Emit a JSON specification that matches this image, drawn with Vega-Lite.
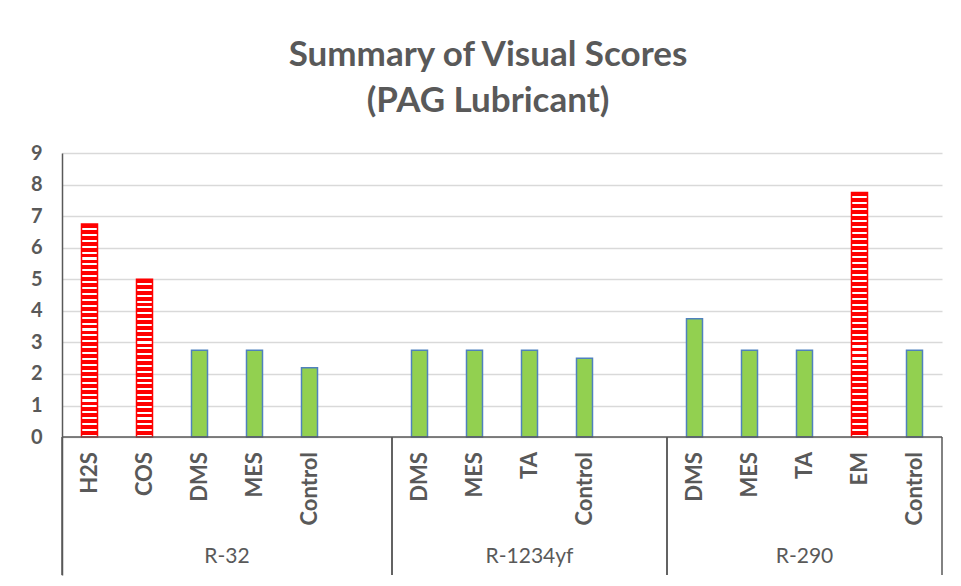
{
  "$schema": "https://vega.github.io/schema/vega-lite/v6.json",
  "width": 880,
  "height": 422,
  "autosize": {"type": "none"},
  "padding": {"left": 62, "top": 153, "right": 19, "bottom": 11},
  "background": "white",
  "title": {
    "text": ["Summary of Visual Scores", "(PAG Lubricant)"],
    "font": "Lato",
    "fontSize": 35,
    "fontWeight": "bold",
    "color": "#595959",
    "lineHeight": 46,
    "baseline": "bottom",
    "offset": -11,
    "dx": -14,
    "anchor": "middle"
  },
  "datasets": {
    "scores": [
      {"group": "R-32", "sub": "H2S", "id": "R-32|H2S", "score": 6.75},
      {"group": "R-32", "sub": "COS", "id": "R-32|COS", "score": 5},
      {"group": "R-32", "sub": "DMS", "id": "R-32|DMS", "score": 2.75},
      {"group": "R-32", "sub": "MES", "id": "R-32|MES", "score": 2.75},
      {"group": "R-32", "sub": "Control", "id": "R-32|Control", "score": 2.2},
      {"group": "R-1234yf", "sub": "DMS", "id": "R-1234yf|DMS", "score": 2.75},
      {"group": "R-1234yf", "sub": "MES", "id": "R-1234yf|MES", "score": 2.75},
      {"group": "R-1234yf", "sub": "TA", "id": "R-1234yf|TA", "score": 2.75},
      {"group": "R-1234yf", "sub": "Control", "id": "R-1234yf|Control", "score": 2.5},
      {"group": "R-290", "sub": "DMS", "id": "R-290|DMS", "score": 3.75},
      {"group": "R-290", "sub": "MES", "id": "R-290|MES", "score": 2.75},
      {"group": "R-290", "sub": "TA", "id": "R-290|TA", "score": 2.75},
      {"group": "R-290", "sub": "EM", "id": "R-290|EM", "score": 7.75},
      {"group": "R-290", "sub": "Control", "id": "R-290|Control", "score": 2.75}
    ],
    "groups": [
      {"group": "R-32", "start": "R-32|H2S", "end": "R-32|", "mid": "R-32|DMS"},
      {"group": "R-1234yf", "start": "R-1234yf|DMS", "end": "R-1234yf|", "mid": "R-1234yf|TA"},
      {"group": "R-290", "start": "R-290|DMS", "end": "R-290|Control", "mid": "R-290|TA"}
    ]
  },
  "data": {"name": "scores"},
  "config": {
    "font": "Lato",
    "view": {"stroke": null}
  },
  "layer": [
    {
      "mark": {"type": "bar", "width": 16, "strokeWidth": 1.5},
      "encoding": {
        "x": {
          "field": "id",
          "type": "nominal",
          "scale": {
            "type": "band",
            "paddingInner": 0,
            "paddingOuter": 0,
            "domain": ["R-32|H2S", "R-32|COS", "R-32|DMS", "R-32|MES", "R-32|Control", "R-32|", "R-1234yf|DMS", "R-1234yf|MES", "R-1234yf|TA", "R-1234yf|Control", "R-1234yf|", "R-290|DMS", "R-290|MES", "R-290|TA", "R-290|EM", "R-290|Control"]
          },
          "axis": null
        },
        "y": {
          "field": "score",
          "type": "quantitative",
          "scale": {"domain": [-4.37, 9], "nice": false, "zero": false},
          "axis": {
            "values": [0, 1, 2, 3, 4, 5, 6, 7, 8, 9],
            "title": null,
            "grid": true,
            "gridColor": "#D9D9D9",
            "gridWidth": 1.5,
            "domain": true,
            "domainColor": "#595959",
            "domainWidth": 1.5,
            "ticks": false,
            "tickSize": 0,
            "labelPadding": 20,
            "labelFont": "Lato",
            "labelFontSize": 20,
            "labelFontWeight": "bold",
            "labelColor": "#595959"
          }
        },
        "y2": {"datum": 0},
        "fill": {
          "condition": [
            {"test": "datum.score >= 7.5", "value": {"gradient": "linear", "x1": 0, "y1": 0, "x2": 0, "y2": 1, "stops": [
              {"offset":0,"color":"#f00"},{"offset":0.0159,"color":"#f00"},{"offset":0.0159,"color":"#fff"},{"offset":0.0244,"color":"#fff"},
              {"offset":0.0244,"color":"#f00"},{"offset":0.0402,"color":"#f00"},{"offset":0.0402,"color":"#fff"},{"offset":0.0488,"color":"#fff"},
              {"offset":0.0488,"color":"#f00"},{"offset":0.0646,"color":"#f00"},{"offset":0.0646,"color":"#fff"},{"offset":0.0732,"color":"#fff"},
              {"offset":0.0732,"color":"#f00"},{"offset":0.089,"color":"#f00"},{"offset":0.089,"color":"#fff"},{"offset":0.0976,"color":"#fff"},
              {"offset":0.0976,"color":"#f00"},{"offset":0.1134,"color":"#f00"},{"offset":0.1134,"color":"#fff"},{"offset":0.122,"color":"#fff"},
              {"offset":0.122,"color":"#f00"},{"offset":0.1378,"color":"#f00"},{"offset":0.1378,"color":"#fff"},{"offset":0.1463,"color":"#fff"},
              {"offset":0.1463,"color":"#f00"},{"offset":0.1622,"color":"#f00"},{"offset":0.1622,"color":"#fff"},{"offset":0.1707,"color":"#fff"},
              {"offset":0.1707,"color":"#f00"},{"offset":0.1866,"color":"#f00"},{"offset":0.1866,"color":"#fff"},{"offset":0.1951,"color":"#fff"},
              {"offset":0.1951,"color":"#f00"},{"offset":0.211,"color":"#f00"},{"offset":0.211,"color":"#fff"},{"offset":0.2195,"color":"#fff"},
              {"offset":0.2195,"color":"#f00"},{"offset":0.2354,"color":"#f00"},{"offset":0.2354,"color":"#fff"},{"offset":0.2439,"color":"#fff"},
              {"offset":0.2439,"color":"#f00"},{"offset":0.2598,"color":"#f00"},{"offset":0.2598,"color":"#fff"},{"offset":0.2683,"color":"#fff"},
              {"offset":0.2683,"color":"#f00"},{"offset":0.2841,"color":"#f00"},{"offset":0.2841,"color":"#fff"},{"offset":0.2927,"color":"#fff"},
              {"offset":0.2927,"color":"#f00"},{"offset":0.3085,"color":"#f00"},{"offset":0.3085,"color":"#fff"},{"offset":0.3171,"color":"#fff"},
              {"offset":0.3171,"color":"#f00"},{"offset":0.3329,"color":"#f00"},{"offset":0.3329,"color":"#fff"},{"offset":0.3415,"color":"#fff"},
              {"offset":0.3415,"color":"#f00"},{"offset":0.3573,"color":"#f00"},{"offset":0.3573,"color":"#fff"},{"offset":0.3659,"color":"#fff"},
              {"offset":0.3659,"color":"#f00"},{"offset":0.3817,"color":"#f00"},{"offset":0.3817,"color":"#fff"},{"offset":0.3902,"color":"#fff"},
              {"offset":0.3902,"color":"#f00"},{"offset":0.4061,"color":"#f00"},{"offset":0.4061,"color":"#fff"},{"offset":0.4146,"color":"#fff"},
              {"offset":0.4146,"color":"#f00"},{"offset":0.4305,"color":"#f00"},{"offset":0.4305,"color":"#fff"},{"offset":0.439,"color":"#fff"},
              {"offset":0.439,"color":"#f00"},{"offset":0.4549,"color":"#f00"},{"offset":0.4549,"color":"#fff"},{"offset":0.4634,"color":"#fff"},
              {"offset":0.4634,"color":"#f00"},{"offset":0.4793,"color":"#f00"},{"offset":0.4793,"color":"#fff"},{"offset":0.4878,"color":"#fff"},
              {"offset":0.4878,"color":"#f00"},{"offset":0.5037,"color":"#f00"},{"offset":0.5037,"color":"#fff"},{"offset":0.5122,"color":"#fff"},
              {"offset":0.5122,"color":"#f00"},{"offset":0.528,"color":"#f00"},{"offset":0.528,"color":"#fff"},{"offset":0.5366,"color":"#fff"},
              {"offset":0.5366,"color":"#f00"},{"offset":0.5524,"color":"#f00"},{"offset":0.5524,"color":"#fff"},{"offset":0.561,"color":"#fff"},
              {"offset":0.561,"color":"#f00"},{"offset":0.5768,"color":"#f00"},{"offset":0.5768,"color":"#fff"},{"offset":0.5854,"color":"#fff"},
              {"offset":0.5854,"color":"#f00"},{"offset":0.6012,"color":"#f00"},{"offset":0.6012,"color":"#fff"},{"offset":0.6098,"color":"#fff"},
              {"offset":0.6098,"color":"#f00"},{"offset":0.6256,"color":"#f00"},{"offset":0.6256,"color":"#fff"},{"offset":0.6341,"color":"#fff"},
              {"offset":0.6341,"color":"#f00"},{"offset":0.65,"color":"#f00"},{"offset":0.65,"color":"#fff"},{"offset":0.6585,"color":"#fff"},
              {"offset":0.6585,"color":"#f00"},{"offset":0.6744,"color":"#f00"},{"offset":0.6744,"color":"#fff"},{"offset":0.6829,"color":"#fff"},
              {"offset":0.6829,"color":"#f00"},{"offset":0.6988,"color":"#f00"},{"offset":0.6988,"color":"#fff"},{"offset":0.7073,"color":"#fff"},
              {"offset":0.7073,"color":"#f00"},{"offset":0.7232,"color":"#f00"},{"offset":0.7232,"color":"#fff"},{"offset":0.7317,"color":"#fff"},
              {"offset":0.7317,"color":"#f00"},{"offset":0.7476,"color":"#f00"},{"offset":0.7476,"color":"#fff"},{"offset":0.7561,"color":"#fff"},
              {"offset":0.7561,"color":"#f00"},{"offset":0.772,"color":"#f00"},{"offset":0.772,"color":"#fff"},{"offset":0.7805,"color":"#fff"},
              {"offset":0.7805,"color":"#f00"},{"offset":0.7963,"color":"#f00"},{"offset":0.7963,"color":"#fff"},{"offset":0.8049,"color":"#fff"},
              {"offset":0.8049,"color":"#f00"},{"offset":0.8207,"color":"#f00"},{"offset":0.8207,"color":"#fff"},{"offset":0.8293,"color":"#fff"},
              {"offset":0.8293,"color":"#f00"},{"offset":0.8451,"color":"#f00"},{"offset":0.8451,"color":"#fff"},{"offset":0.8537,"color":"#fff"},
              {"offset":0.8537,"color":"#f00"},{"offset":0.8695,"color":"#f00"},{"offset":0.8695,"color":"#fff"},{"offset":0.878,"color":"#fff"},
              {"offset":0.878,"color":"#f00"},{"offset":0.8939,"color":"#f00"},{"offset":0.8939,"color":"#fff"},{"offset":0.9024,"color":"#fff"},
              {"offset":0.9024,"color":"#f00"},{"offset":0.9183,"color":"#f00"},{"offset":0.9183,"color":"#fff"},{"offset":0.9268,"color":"#fff"},
              {"offset":0.9268,"color":"#f00"},{"offset":0.9427,"color":"#f00"},{"offset":0.9427,"color":"#fff"},{"offset":0.9512,"color":"#fff"},
              {"offset":0.9512,"color":"#f00"},{"offset":0.9671,"color":"#f00"},{"offset":0.9671,"color":"#fff"},{"offset":0.9756,"color":"#fff"},
              {"offset":0.9756,"color":"#f00"},{"offset":0.9915,"color":"#f00"},{"offset":0.9915,"color":"#fff"},{"offset":1,"color":"#fff"}
            ]}},
            {"test": "datum.score >= 6", "value": {"gradient": "linear", "x1": 0, "y1": 0, "x2": 0, "y2": 1, "stops": [
              {"offset":0,"color":"#f00"},{"offset":0.0181,"color":"#f00"},{"offset":0.0181,"color":"#fff"},{"offset":0.0278,"color":"#fff"},
              {"offset":0.0278,"color":"#f00"},{"offset":0.0458,"color":"#f00"},{"offset":0.0458,"color":"#fff"},{"offset":0.0556,"color":"#fff"},
              {"offset":0.0556,"color":"#f00"},{"offset":0.0736,"color":"#f00"},{"offset":0.0736,"color":"#fff"},{"offset":0.0833,"color":"#fff"},
              {"offset":0.0833,"color":"#f00"},{"offset":0.1014,"color":"#f00"},{"offset":0.1014,"color":"#fff"},{"offset":0.1111,"color":"#fff"},
              {"offset":0.1111,"color":"#f00"},{"offset":0.1292,"color":"#f00"},{"offset":0.1292,"color":"#fff"},{"offset":0.1389,"color":"#fff"},
              {"offset":0.1389,"color":"#f00"},{"offset":0.1569,"color":"#f00"},{"offset":0.1569,"color":"#fff"},{"offset":0.1667,"color":"#fff"},
              {"offset":0.1667,"color":"#f00"},{"offset":0.1847,"color":"#f00"},{"offset":0.1847,"color":"#fff"},{"offset":0.1944,"color":"#fff"},
              {"offset":0.1944,"color":"#f00"},{"offset":0.2125,"color":"#f00"},{"offset":0.2125,"color":"#fff"},{"offset":0.2222,"color":"#fff"},
              {"offset":0.2222,"color":"#f00"},{"offset":0.2403,"color":"#f00"},{"offset":0.2403,"color":"#fff"},{"offset":0.25,"color":"#fff"},
              {"offset":0.25,"color":"#f00"},{"offset":0.2681,"color":"#f00"},{"offset":0.2681,"color":"#fff"},{"offset":0.2778,"color":"#fff"},
              {"offset":0.2778,"color":"#f00"},{"offset":0.2958,"color":"#f00"},{"offset":0.2958,"color":"#fff"},{"offset":0.3056,"color":"#fff"},
              {"offset":0.3056,"color":"#f00"},{"offset":0.3236,"color":"#f00"},{"offset":0.3236,"color":"#fff"},{"offset":0.3333,"color":"#fff"},
              {"offset":0.3333,"color":"#f00"},{"offset":0.3514,"color":"#f00"},{"offset":0.3514,"color":"#fff"},{"offset":0.3611,"color":"#fff"},
              {"offset":0.3611,"color":"#f00"},{"offset":0.3792,"color":"#f00"},{"offset":0.3792,"color":"#fff"},{"offset":0.3889,"color":"#fff"},
              {"offset":0.3889,"color":"#f00"},{"offset":0.4069,"color":"#f00"},{"offset":0.4069,"color":"#fff"},{"offset":0.4167,"color":"#fff"},
              {"offset":0.4167,"color":"#f00"},{"offset":0.4347,"color":"#f00"},{"offset":0.4347,"color":"#fff"},{"offset":0.4444,"color":"#fff"},
              {"offset":0.4444,"color":"#f00"},{"offset":0.4625,"color":"#f00"},{"offset":0.4625,"color":"#fff"},{"offset":0.4722,"color":"#fff"},
              {"offset":0.4722,"color":"#f00"},{"offset":0.4903,"color":"#f00"},{"offset":0.4903,"color":"#fff"},{"offset":0.5,"color":"#fff"},
              {"offset":0.5,"color":"#f00"},{"offset":0.5181,"color":"#f00"},{"offset":0.5181,"color":"#fff"},{"offset":0.5278,"color":"#fff"},
              {"offset":0.5278,"color":"#f00"},{"offset":0.5458,"color":"#f00"},{"offset":0.5458,"color":"#fff"},{"offset":0.5556,"color":"#fff"},
              {"offset":0.5556,"color":"#f00"},{"offset":0.5736,"color":"#f00"},{"offset":0.5736,"color":"#fff"},{"offset":0.5833,"color":"#fff"},
              {"offset":0.5833,"color":"#f00"},{"offset":0.6014,"color":"#f00"},{"offset":0.6014,"color":"#fff"},{"offset":0.6111,"color":"#fff"},
              {"offset":0.6111,"color":"#f00"},{"offset":0.6292,"color":"#f00"},{"offset":0.6292,"color":"#fff"},{"offset":0.6389,"color":"#fff"},
              {"offset":0.6389,"color":"#f00"},{"offset":0.6569,"color":"#f00"},{"offset":0.6569,"color":"#fff"},{"offset":0.6667,"color":"#fff"},
              {"offset":0.6667,"color":"#f00"},{"offset":0.6847,"color":"#f00"},{"offset":0.6847,"color":"#fff"},{"offset":0.6944,"color":"#fff"},
              {"offset":0.6944,"color":"#f00"},{"offset":0.7125,"color":"#f00"},{"offset":0.7125,"color":"#fff"},{"offset":0.7222,"color":"#fff"},
              {"offset":0.7222,"color":"#f00"},{"offset":0.7403,"color":"#f00"},{"offset":0.7403,"color":"#fff"},{"offset":0.75,"color":"#fff"},
              {"offset":0.75,"color":"#f00"},{"offset":0.7681,"color":"#f00"},{"offset":0.7681,"color":"#fff"},{"offset":0.7778,"color":"#fff"},
              {"offset":0.7778,"color":"#f00"},{"offset":0.7958,"color":"#f00"},{"offset":0.7958,"color":"#fff"},{"offset":0.8056,"color":"#fff"},
              {"offset":0.8056,"color":"#f00"},{"offset":0.8236,"color":"#f00"},{"offset":0.8236,"color":"#fff"},{"offset":0.8333,"color":"#fff"},
              {"offset":0.8333,"color":"#f00"},{"offset":0.8514,"color":"#f00"},{"offset":0.8514,"color":"#fff"},{"offset":0.8611,"color":"#fff"},
              {"offset":0.8611,"color":"#f00"},{"offset":0.8792,"color":"#f00"},{"offset":0.8792,"color":"#fff"},{"offset":0.8889,"color":"#fff"},
              {"offset":0.8889,"color":"#f00"},{"offset":0.9069,"color":"#f00"},{"offset":0.9069,"color":"#fff"},{"offset":0.9167,"color":"#fff"},
              {"offset":0.9167,"color":"#f00"},{"offset":0.9347,"color":"#f00"},{"offset":0.9347,"color":"#fff"},{"offset":0.9444,"color":"#fff"},
              {"offset":0.9444,"color":"#f00"},{"offset":0.9625,"color":"#f00"},{"offset":0.9625,"color":"#fff"},{"offset":0.9722,"color":"#fff"},
              {"offset":0.9722,"color":"#f00"},{"offset":0.9903,"color":"#f00"},{"offset":0.9903,"color":"#fff"},{"offset":1,"color":"#fff"}
            ]}},
            {"test": "datum.score > 4", "value": {"gradient": "linear", "x1": 0, "y1": 0, "x2": 0, "y2": 1, "stops": [
              {"offset":0,"color":"#f00"},{"offset":0.0241,"color":"#f00"},{"offset":0.0241,"color":"#fff"},{"offset":0.037,"color":"#fff"},
              {"offset":0.037,"color":"#f00"},{"offset":0.0611,"color":"#f00"},{"offset":0.0611,"color":"#fff"},{"offset":0.0741,"color":"#fff"},
              {"offset":0.0741,"color":"#f00"},{"offset":0.0981,"color":"#f00"},{"offset":0.0981,"color":"#fff"},{"offset":0.1111,"color":"#fff"},
              {"offset":0.1111,"color":"#f00"},{"offset":0.1352,"color":"#f00"},{"offset":0.1352,"color":"#fff"},{"offset":0.1481,"color":"#fff"},
              {"offset":0.1481,"color":"#f00"},{"offset":0.1722,"color":"#f00"},{"offset":0.1722,"color":"#fff"},{"offset":0.1852,"color":"#fff"},
              {"offset":0.1852,"color":"#f00"},{"offset":0.2093,"color":"#f00"},{"offset":0.2093,"color":"#fff"},{"offset":0.2222,"color":"#fff"},
              {"offset":0.2222,"color":"#f00"},{"offset":0.2463,"color":"#f00"},{"offset":0.2463,"color":"#fff"},{"offset":0.2593,"color":"#fff"},
              {"offset":0.2593,"color":"#f00"},{"offset":0.2833,"color":"#f00"},{"offset":0.2833,"color":"#fff"},{"offset":0.2963,"color":"#fff"},
              {"offset":0.2963,"color":"#f00"},{"offset":0.3204,"color":"#f00"},{"offset":0.3204,"color":"#fff"},{"offset":0.3333,"color":"#fff"},
              {"offset":0.3333,"color":"#f00"},{"offset":0.3574,"color":"#f00"},{"offset":0.3574,"color":"#fff"},{"offset":0.3704,"color":"#fff"},
              {"offset":0.3704,"color":"#f00"},{"offset":0.3944,"color":"#f00"},{"offset":0.3944,"color":"#fff"},{"offset":0.4074,"color":"#fff"},
              {"offset":0.4074,"color":"#f00"},{"offset":0.4315,"color":"#f00"},{"offset":0.4315,"color":"#fff"},{"offset":0.4444,"color":"#fff"},
              {"offset":0.4444,"color":"#f00"},{"offset":0.4685,"color":"#f00"},{"offset":0.4685,"color":"#fff"},{"offset":0.4815,"color":"#fff"},
              {"offset":0.4815,"color":"#f00"},{"offset":0.5056,"color":"#f00"},{"offset":0.5056,"color":"#fff"},{"offset":0.5185,"color":"#fff"},
              {"offset":0.5185,"color":"#f00"},{"offset":0.5426,"color":"#f00"},{"offset":0.5426,"color":"#fff"},{"offset":0.5556,"color":"#fff"},
              {"offset":0.5556,"color":"#f00"},{"offset":0.5796,"color":"#f00"},{"offset":0.5796,"color":"#fff"},{"offset":0.5926,"color":"#fff"},
              {"offset":0.5926,"color":"#f00"},{"offset":0.6167,"color":"#f00"},{"offset":0.6167,"color":"#fff"},{"offset":0.6296,"color":"#fff"},
              {"offset":0.6296,"color":"#f00"},{"offset":0.6537,"color":"#f00"},{"offset":0.6537,"color":"#fff"},{"offset":0.6667,"color":"#fff"},
              {"offset":0.6667,"color":"#f00"},{"offset":0.6907,"color":"#f00"},{"offset":0.6907,"color":"#fff"},{"offset":0.7037,"color":"#fff"},
              {"offset":0.7037,"color":"#f00"},{"offset":0.7278,"color":"#f00"},{"offset":0.7278,"color":"#fff"},{"offset":0.7407,"color":"#fff"},
              {"offset":0.7407,"color":"#f00"},{"offset":0.7648,"color":"#f00"},{"offset":0.7648,"color":"#fff"},{"offset":0.7778,"color":"#fff"},
              {"offset":0.7778,"color":"#f00"},{"offset":0.8019,"color":"#f00"},{"offset":0.8019,"color":"#fff"},{"offset":0.8148,"color":"#fff"},
              {"offset":0.8148,"color":"#f00"},{"offset":0.8389,"color":"#f00"},{"offset":0.8389,"color":"#fff"},{"offset":0.8519,"color":"#fff"},
              {"offset":0.8519,"color":"#f00"},{"offset":0.8759,"color":"#f00"},{"offset":0.8759,"color":"#fff"},{"offset":0.8889,"color":"#fff"},
              {"offset":0.8889,"color":"#f00"},{"offset":0.913,"color":"#f00"},{"offset":0.913,"color":"#fff"},{"offset":0.9259,"color":"#fff"},
              {"offset":0.9259,"color":"#f00"},{"offset":0.95,"color":"#f00"},{"offset":0.95,"color":"#fff"},{"offset":0.963,"color":"#fff"},
              {"offset":0.963,"color":"#f00"},{"offset":0.987,"color":"#f00"},{"offset":0.987,"color":"#fff"},{"offset":1,"color":"#fff"}
            ]}}
          ],
          "value": "#92D050"
        },
        "stroke": {
          "condition": {"test": "datum.score > 4", "value": "#FF0000"},
          "value": "#4F81BD"
        }
      }
    },
    {
      "mark": {"type": "text", "angle": 270, "align": "right", "baseline": "middle", "font": "Lato", "fontSize": 22, "fontWeight": "bold", "color": "#595959"},
      "encoding": {
        "x": {"field": "id", "type": "nominal"},
        "y": {"datum": -0.475},
        "text": {"field": "sub"}
      }
    },
    {
      "data": {"values": [{}]},
      "mark": {"type": "rule", "color": "#595959", "strokeWidth": 1.5},
      "encoding": {"y": {"datum": 0}}
    },
    {
      "data": {"name": "groups"},
      "mark": {"type": "rule", "color": "#595959", "strokeWidth": 1.5},
      "encoding": {
        "x": {"field": "start", "type": "nominal", "bandPosition": 0},
        "y": {"datum": 0},
        "y2": {"datum": -4.37}
      }
    },
    {
      "data": {"name": "groups"},
      "mark": {"type": "rule", "color": "#595959", "strokeWidth": 1.5},
      "encoding": {
        "x": {"field": "end", "type": "nominal", "bandPosition": 1},
        "y": {"datum": 0},
        "y2": {"datum": -4.37}
      }
    },
    {
      "data": {"name": "groups"},
      "transform": [{"filter": "datum.group === 'R-32'"}],
      "mark": {"type": "text", "align": "center", "baseline": "middle", "font": "Lato", "fontSize": 21, "color": "#595959"},
      "encoding": {
        "x": {"field": "mid", "type": "nominal", "bandPosition": 1},
        "y": {"datum": -3.8},
        "text": {"field": "group"}
      }
    },
    {
      "data": {"name": "groups"},
      "transform": [{"filter": "datum.group !== 'R-32'"}],
      "mark": {"type": "text", "align": "center", "baseline": "middle", "font": "Lato", "fontSize": 21, "color": "#595959"},
      "encoding": {
        "x": {"field": "mid", "type": "nominal", "bandPosition": 0.5},
        "y": {"datum": -3.8},
        "text": {"field": "group"}
      }
    }
  ]
}
